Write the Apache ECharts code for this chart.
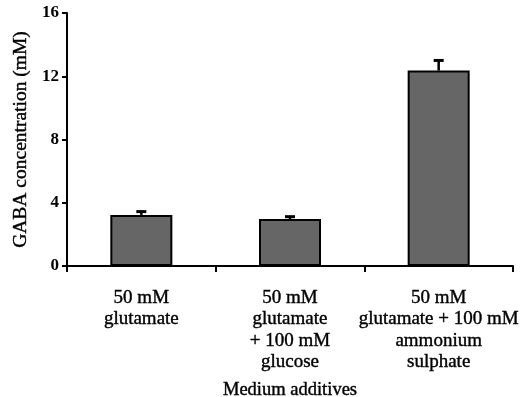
<!DOCTYPE html>
<html>
<head>
<meta charset="utf-8">
<script src="https://cdn.jsdelivr.net/npm/echarts@6/dist/echarts.min.js"></script>
<style>html,body{margin:0;padding:0;background:#fff;}#c{width:531px;height:397px;}</style>
</head>
<body>
<div id="c"></div>
<script>
var categories = ["50 mM\nglutamate", "50 mM\nglutamate\n+ 100 mM\nglucose", "50 mM\nglutamate + 100 mM\nammonium\nsulphate"];
var values = [3.23, 2.97, 12.36];
var errors = [0.21, 0.15, 0.64];
var yTicks = [0, 4, 8, 12, 16];

var font = "Liberation Serif";
var chart = echarts.init(document.getElementById('c'));
chart.setOption({
  animation: false,
  grid: {left: 67, right: 18, top: 13, bottom: 131, containLabel: false, outerBoundsMode: 'none'},
  xAxis: {
    type: 'category',
    data: categories,
    name: 'Medium additives',
    nameLocation: 'middle',
    nameGap: 115,
    nameTextStyle: {fontFamily: font, fontSize: 18.5, color: '#000', textBorderColor: '#000', textBorderWidth: 0.4},
    axisLine: {lineStyle: {color: '#000', width: 2}},
    axisTick: {show: true, length: 6, lineStyle: {color: '#000', width: 2}},
    axisLabel: {interval: 0, fontFamily: font, fontSize: 19, lineHeight: 21.5, color: '#000', margin: 21,
      textBorderColor: '#000', textBorderWidth: 0.4}
  },
  yAxis: {
    type: 'value',
    min: 0, max: 16, interval: 4,
    name: 'GABA concentration (mM)',
    nameLocation: 'middle',
    nameGap: 33,
    nameTextStyle: {fontFamily: font, fontSize: 19.5, color: '#000', textBorderColor: '#000', textBorderWidth: 0.4},
    axisLine: {show: true, lineStyle: {color: '#000', width: 2}},
    axisTick: {show: true, length: 5, lineStyle: {color: '#000', width: 2}},
    axisLabel: {fontFamily: font, fontSize: 17, fontWeight: 'bold', color: '#000', margin: 8,
      formatter: function (v) { return yTicks.indexOf(v) >= 0 ? String(v) : ''; }},
    splitLine: {show: false}
  },
  series: [
    {
      type: 'custom',
      z: 1,
      renderItem: function (params, api) {
        var i = api.value(0);
        var v = api.value(1);
        var e = api.value(2);
        var p0 = api.coord([i, v]);
        var p1 = api.coord([i, v + e]);
        return {
          type: 'group',
          children: [
            {type: 'line', shape: {x1: p0[0], y1: p0[1], x2: p1[0], y2: p1[1]}, style: {stroke: '#000', lineWidth: 2.5}},
            {type: 'line', shape: {x1: p1[0] - 5, y1: p1[1], x2: p1[0] + 5, y2: p1[1]}, style: {stroke: '#000', lineWidth: 3}}
          ]
        };
      },
      data: values.map(function (v, i) { return [i, v, errors[i]]; })
    },
    {
      type: 'bar',
      z: 2,
      data: values,
      barWidth: 62,
      itemStyle: {color: '#666666', borderColor: '#000', borderWidth: 2}
    }
  ]
});
</script>
</body>
</html>
